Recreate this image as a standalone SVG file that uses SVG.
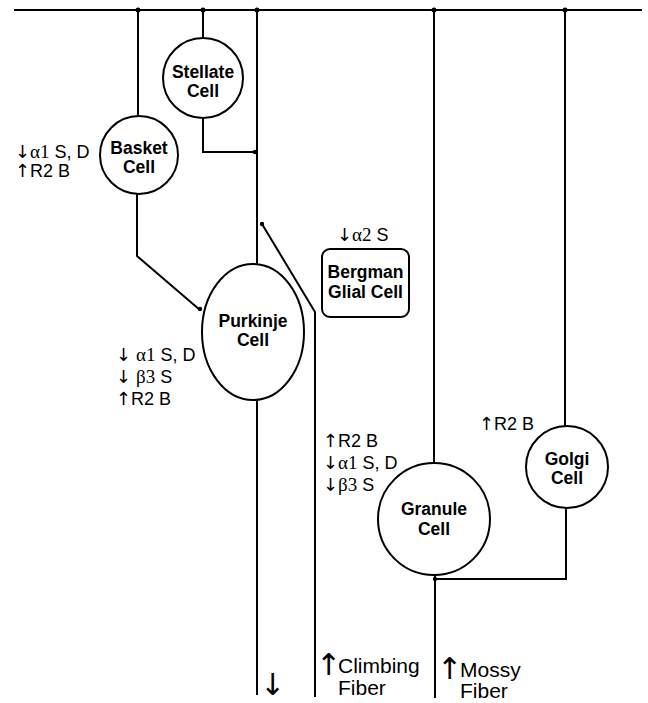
<svg xmlns="http://www.w3.org/2000/svg" width="648" height="703" viewBox="0 0 648 703">
<style>
.ln{fill:none;stroke:#000;stroke-width:2}
.cell{fill:#fff;stroke:#000;stroke-width:2}
.nm{font-family:"Liberation Sans",Arial,sans-serif;font-weight:bold;font-size:17.5px;text-anchor:middle}
.lb{font-family:"Liberation Sans",Arial,sans-serif;font-size:18px}
.gr{font-family:"Liberation Serif","Times New Roman",serif;font-size:19px}
.ar{font-family:"DejaVu Sans",sans-serif}
.bar{font-family:"DejaVu Sans",sans-serif;font-size:30px}
.big{font-family:"Liberation Sans",Arial,sans-serif;font-size:21px}
</style>
<rect width="648" height="703" fill="#fff"/>
<g id="connectors">
<line class="ln" x1="14" y1="10" x2="642" y2="10"/>
<line class="ln" x1="138" y1="10" x2="138" y2="116"/>
<line class="ln" x1="203" y1="10" x2="203" y2="38"/>
<line class="ln" x1="257" y1="10" x2="257" y2="264"/>
<line class="ln" x1="434" y1="10" x2="434" y2="463"/>
<line class="ln" x1="565" y1="10" x2="565" y2="427"/>
<polyline class="ln" points="203,118 203,152 255,152"/>
<polyline class="ln" points="137,194 137,256 200,310"/>
<polyline class="ln" points="262,224 315,312 315,697"/>
<line class="ln" x1="257" y1="400" x2="257" y2="695"/>
<line class="ln" x1="435" y1="575" x2="435" y2="698"/>
<polyline class="ln" points="435,579 566,579 566,507"/>
<g fill="#000">
<circle cx="138" cy="10" r="2.5"/>
<circle cx="203" cy="10" r="2.5"/>
<circle cx="257" cy="10" r="2.5"/>
<circle cx="434" cy="10" r="2.5"/>
<circle cx="565" cy="10" r="2.5"/>
<circle cx="255" cy="152" r="2.2"/>
<circle cx="200" cy="309" r="2.2"/>
<circle cx="262" cy="224" r="2.2"/>
<circle cx="435" cy="579" r="2.2"/>
</g>
</g>
<g id="stellate">
<circle class="cell" cx="203" cy="78" r="40"/>
<text class="nm" x="203" y="78">Stellate</text>
<text class="nm" x="203" y="97">Cell</text>
</g>
<g id="basket">
<circle class="cell" cx="139" cy="155" r="39"/>
<text class="nm" x="139" y="154">Basket</text>
<text class="nm" x="139" y="173">Cell</text>
<text class="lb" x="15" y="158"><tspan class="ar">↓</tspan><tspan class="gr">α1</tspan> S, D</text>
<text class="lb" x="15" y="177"><tspan class="ar">↑</tspan>R2 B</text>
</g>
<g id="purkinje">
<ellipse class="cell" cx="253" cy="332" rx="51" ry="68"/>
<text class="nm" x="253" y="327">Purkinje</text>
<text class="nm" x="253" y="346">Cell</text>
<text class="lb" x="116" y="361"><tspan class="ar">↓</tspan> <tspan class="gr">α1</tspan>  S, D</text>
<text class="lb" x="116" y="383"><tspan class="ar">↓</tspan> <tspan class="gr">β3</tspan>  S</text>
<text class="lb" x="116" y="405"><tspan class="ar">↑</tspan>R2 B</text>
<text class="bar" x="260" y="695">↓</text>
</g>
<g id="bergman">
<rect class="cell" x="322" y="249" width="87" height="68" rx="8"/>
<text class="nm" x="365.5" y="278">Bergman</text>
<text class="nm" x="365.5" y="298">Glial Cell</text>
<text class="lb" x="337" y="241"><tspan class="ar">↓</tspan><tspan class="gr">α2</tspan>  S</text>
</g>
<g id="climbing">
<text class="bar" x="316" y="675">↑</text>
<text class="big" x="338" y="673">Climbing</text>
<text class="big" x="338" y="695">Fiber</text>
</g>
<g id="granule">
<circle class="cell" cx="434" cy="519" r="56"/>
<text class="nm" x="434" y="515">Granule</text>
<text class="nm" x="434" y="535">Cell</text>
<text class="lb" x="323" y="447"><tspan class="ar">↑</tspan>R2 B</text>
<text class="lb" x="323" y="469"><tspan class="ar">↓</tspan><tspan class="gr">α1</tspan> S, D</text>
<text class="lb" x="323" y="491"><tspan class="ar">↓</tspan><tspan class="gr">β3</tspan> S</text>
</g>
<g id="mossy">
<text class="bar" x="437" y="679">↑</text>
<text class="big" x="460" y="677">Mossy</text>
<text class="big" x="460" y="698">Fiber</text>
</g>
<g id="golgi">
<circle class="cell" cx="567" cy="467" r="41"/>
<text class="nm" x="567" y="465">Golgi</text>
<text class="nm" x="567" y="484">Cell</text>
<text class="lb" x="479" y="430"><tspan class="ar">↑</tspan>R2 B</text>
</g>
</svg>
